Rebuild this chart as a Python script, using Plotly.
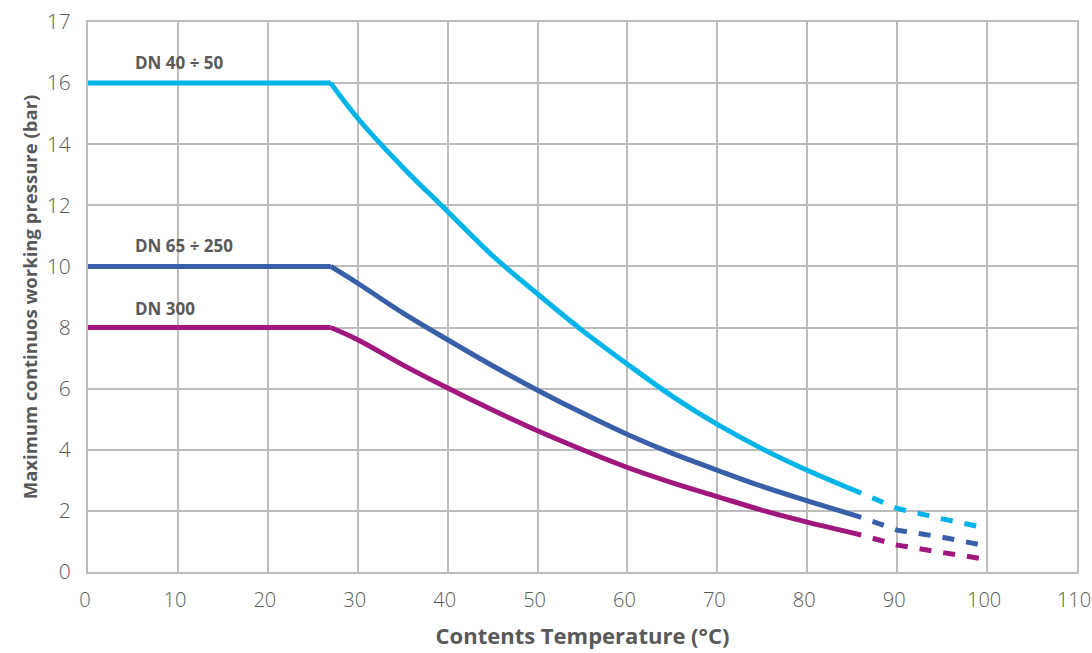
import plotly.graph_objects as go

# ---- data ----
flat_x = [0, 27]
curve_x = [27, 30, 35, 40, 45, 50, 55, 60, 65, 70, 75, 80, 86]
dash_x = [86, 90, 95, 100]

dn40_flat = [16, 16]
dn40_curve = [16, 14.85, 13.25, 11.8, 10.35, 9.1, 7.9, 6.8, 5.75, 4.83, 4.03, 3.33, 2.58]
dn40_dash = [2.58, 2.08, 1.74, 1.43]

dn65_flat = [10, 10]
dn65_curve = [10, 9.45, 8.48, 7.6, 6.75, 5.95, 5.2, 4.5, 3.88, 3.33, 2.8, 2.33, 1.79]
dn65_dash = [1.79, 1.37, 1.14, 0.85]

dn300_flat = [8, 8]
dn300_curve = [8, 7.6, 6.78, 6.02, 5.3, 4.62, 4.0, 3.42, 2.92, 2.47, 2.02, 1.63, 1.21]
dn300_dash = [1.21, 0.88, 0.64, 0.41]

series = [
    ("DN 40 ÷ 50", "#00B3E8", dn40_flat, dn40_curve, dn40_dash, 16.68),
    ("DN 65 ÷ 250", "#3A5FA9", dn65_flat, dn65_curve, dn65_dash, 10.68),
    ("DN 300", "#A0177E", dn300_flat, dn300_curve, dn300_dash, 8.62),
]

y_tickvals = [0, 2, 4, 6, 8, 10, 12, 14, 16, 18]
y_ticktext = ["0", "2", "4", "6", "8", "10", "12", "14", "16", "17"]
x_tickvals = list(range(0, 111, 10))

BOLD = "Open Sans, Lato, sans-serif"
TICK = "Open Sans, Lato, sans-serif"
GRAY = "#595959"

fig = go.Figure()
for name, color, yf, yc, yd, ly in series:
    fig.add_trace(go.Scatter(x=flat_x, y=yf, mode="lines",
                             line=dict(color=color, width=5), showlegend=False, hoverinfo="skip"))
    fig.add_trace(go.Scatter(x=curve_x, y=yc, mode="lines",
                             line=dict(color=color, width=5, shape="spline", smoothing=1.0),
                             showlegend=False, hoverinfo="skip"))
    fig.add_trace(go.Scatter(x=dash_x, y=yd, mode="lines",
                             line=dict(color=color, width=5, dash="0px,12px,12px,0px"),
                             showlegend=False, hoverinfo="skip"))
    fig.add_annotation(x=5, y=ly, text="<b>%s</b>" % name, showarrow=False,
                       xanchor="left", yanchor="middle",
                       font=dict(family=BOLD, size=17, color=GRAY))

grid = "#BDBDBD"
fig.update_layout(
    width=1092, height=653,
    margin=dict(l=88, r=15, t=22, b=81),
    paper_bgcolor="white", plot_bgcolor="white",
    font=dict(family=TICK, color=GRAY),
    xaxis=dict(range=[0, 110], tickvals=x_tickvals, showgrid=True, gridcolor=grid, gridwidth=1.5,
               showline=True, linecolor=grid, linewidth=2, mirror=True, zeroline=False,
               ticks="", tickfont=dict(family=TICK, size=20, color=GRAY, weight=300),
               ticklabelstandoff=9, ticklabelshift=-3, ticklabeloverflow="allow",
               automargin=False,
               title=dict(text="<b>Contents Temperature (°C)</b>",
                          font=dict(family=BOLD, size=22, color=GRAY), standoff=17)),
    yaxis=dict(range=[0, 18], tickvals=y_tickvals, ticktext=y_ticktext, showgrid=True,
               gridcolor=grid, gridwidth=1.5, showline=True, linecolor=grid, linewidth=2,
               mirror=True, zeroline=False, ticks="",
               tickfont=dict(family=TICK, size=21, color=GRAY, weight=300),
               ticklabelstandoff=11, ticklabeloverflow="allow", automargin=False,
               title=dict(text="<b>Maximum continuos working pressure (bar)</b>",
                          font=dict(family=BOLD, size=18.5, color=GRAY), standoff=4)),
)

fig.write_html(
    "out.html",
    config={"displayModeBar": False},
    post_script="document.body.style.margin='0';document.body.style.overflow='hidden';",
)
